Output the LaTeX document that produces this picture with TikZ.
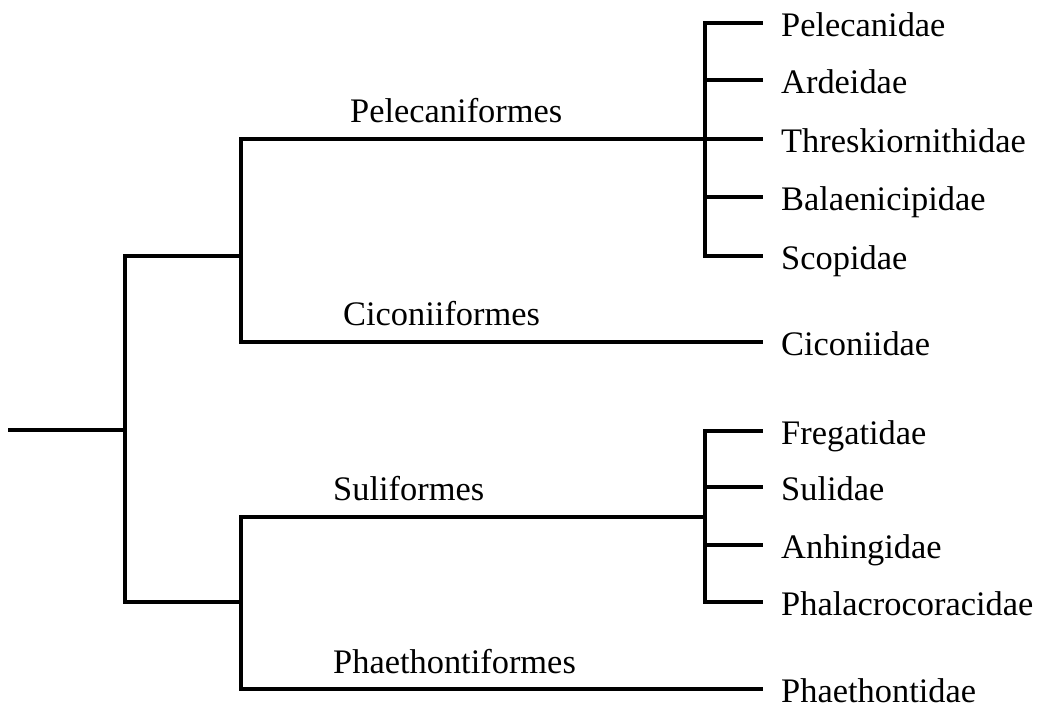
\documentclass[tikz,border=0pt]{standalone}
\usepackage{fontspec}
\setmainfont{Liberation Serif}
\begin{document}
\begin{tikzpicture}[x=1pt,y=-1pt,
  branch/.style={draw=black, line width=3.1pt, line cap=rect, line join=miter},
  leaf/.style={anchor=west, inner xsep=20pt, inner ysep=0pt, text height=26pt, text depth=0pt,
    font=\fontsize{34.4}{40}\selectfont},
  order/.style={anchor=base west, inner sep=0pt, font=\fontsize{34.4}{40}\selectfont}]
\useasboundingbox (0,0) rectangle (1040,705);
% internal points
\coordinate (start) at (10,430);
\coordinate (root) at (125,430);
\coordinate (up) at (241,256);
\coordinate (down) at (241,602);
\coordinate (pel) at (705,139);
\coordinate (sul) at (705,517);
% leaves
\node[leaf] (l1) at (761,23) {Pelecanidae};
\node[leaf] (l2) at (761,80) {Ardeidae};
\node[leaf] (l3) at (761,139) {Threskiornithidae};
\node[leaf] (l4) at (761,197) {Balaenicipidae};
\node[leaf] (l5) at (761,256) {Scopidae};
\node[leaf] (l6) at (761,342) {Ciconiidae};
\node[leaf] (l7) at (761,431) {Fregatidae};
\node[leaf] (l8) at (761,487) {Sulidae};
\node[leaf] (l9) at (761,545) {Anhingidae};
\node[leaf] (l10) at (761,602) {Phalacrocoracidae};
\node[leaf] (l11) at (761,689) {Phaethontidae};
% order labels
\node[order] (o1) at (350,122.5) {Pelecaniformes};
\node[order] (o2) at (343,325) {Ciconiiformes};
\node[order] (o3) at (333,500) {Suliformes};
\node[order] (o4) at (333,673) {Phaethontiformes};
% branches
\draw[branch] (start) -- (root);
\draw[branch] (up) -| (root) |- (down);
\draw[branch] (pel) -| (up) |- (l6.west);
\draw[branch] (sul) -| (down) |- (l11.west);
\draw[branch] (l1.west) -| (pel) |- (l5.west);
\draw[branch] (pel |- l2.west) -- (l2.west);
\draw[branch] (pel) -- (l3.west);
\draw[branch] (pel |- l4.west) -- (l4.west);
\draw[branch] (l7.west) -| (sul) |- (l10.west);
\draw[branch] (sul |- l8.west) -- (l8.west);
\draw[branch] (sul |- l9.west) -- (l9.west);
\end{tikzpicture}
\end{document}
